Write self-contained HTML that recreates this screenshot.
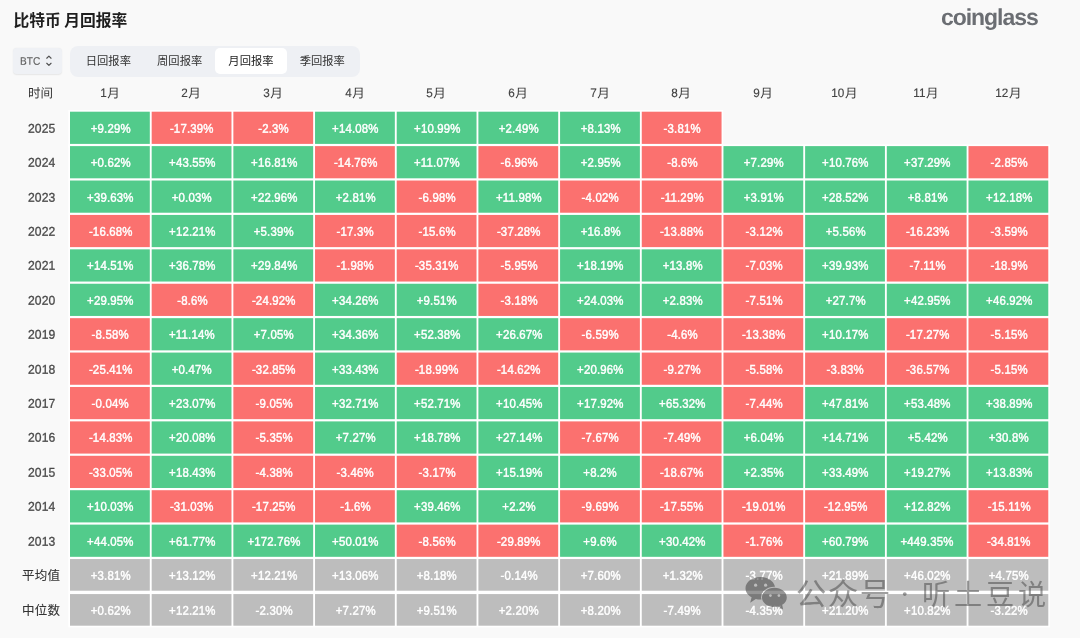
<!DOCTYPE html>
<html lang="zh-CN">
<head>
<meta charset="utf-8">
<title>比特币 月回报率</title>
<style>
html,body{margin:0;padding:0;}
body{width:1080px;height:638px;overflow:hidden;background:#f9f9f9;position:relative;
  font-family:"Liberation Sans","Noto Sans CJK SC",sans-serif;color:#333;}
#bg{position:absolute;left:0;top:0;width:1080px;height:638px;}
.title{position:absolute;left:13.4px;top:8px;height:23px;line-height:23px;font-size:15.75px;font-weight:bold;color:#1e1e1e;white-space:nowrap;
  font-family:"Noto Sans CJK SC","Liberation Sans",sans-serif;}
.logo{position:absolute;left:941px;top:2.4px;height:30px;line-height:30px;font-size:23px;font-weight:bold;color:#6b6e73;white-space:nowrap;
  letter-spacing:-1.05px;transform-origin:0 50%;transform:rotate(.03deg);}
.sel{position:absolute;left:13.4px;top:47.9px;width:48.2px;height:26.1px;border-radius:4px;background:#eff1f5;box-shadow:0 0.5px 1.5px rgba(0,0,0,.08);}
.sel .t{position:absolute;left:6.8px;top:0;height:26.1px;line-height:26.4px;font-size:10.9px;color:#5a5a5a;-webkit-text-stroke:.1px #5a5a5a;transform-origin:0 50%;transform:translateY(-.2px) scaleX(.93) rotate(.03deg);}
.sel svg{position:absolute;left:31.6px;top:6.6px;}
.tabs{position:absolute;left:69.8px;top:45.8px;width:290.3px;height:30.8px;border-radius:8px;background:#eef0f4;}
.tab{position:absolute;top:2.5px;height:25.4px;line-height:25.4px;width:71.3px;text-align:center;font-size:11.3px;color:#333;border-radius:5px;
  font-family:"Noto Sans CJK SC","Liberation Sans",sans-serif;}
.tab.on{background:#fff;color:#222;}
.h{position:absolute;top:82px;height:22px;line-height:22px;text-align:center;font-size:12.5px;color:#333;white-space:nowrap;
  font-family:"Liberation Sans","Noto Sans CJK SC",sans-serif;}
.y{position:absolute;left:13px;width:56px;text-align:center;font-size:12.8px;color:#3d3d3d;white-space:nowrap;-webkit-text-stroke:.3px #4a4a4a;color:#4a4a4a;}
.y.z{font-size:12.5px;letter-spacing:.3px;text-indent:.3px;-webkit-text-stroke:.1px #3a3a3a;color:#3a3a3a;font-family:"Noto Sans CJK SC","Liberation Sans",sans-serif;color:#333;}
.hl{display:inline-block;transform:translate(0,.5px) rotate(.03deg);}
.h .n{font-size:12.2px;transform:translate(0px,-.55px) scaleX(.96) rotate(.03deg);margin:0 .3px 0 -.9px;-webkit-text-stroke:.15px #444;color:#444}
.y.z2{margin-top:0}
.n{display:inline-block;transform:translate(.4px,.8px) scaleX(.95) rotate(.03deg);}
.c{position:absolute;text-align:center;font-size:12.6px;letter-spacing:.2px;color:#fff;white-space:nowrap;-webkit-text-stroke:.45px #fff;}
.f .v{transform:translate(.6px,1.8px) scaleX(.905) rotate(.03deg);}
.v{display:inline-block;transform:translate(.6px,.8px) scaleX(.905) rotate(.03deg);}
.wm{position:absolute;left:0;top:0;width:1080px;height:638px;pointer-events:none;}
.wm .w{position:absolute;top:572px;height:40px;line-height:40px;font-size:30.6px;letter-spacing:1.4px;color:rgba(70,70,70,.52);white-space:nowrap;
  font-family:"Noto Sans CJK SC","Liberation Sans",sans-serif;font-weight:400;}
</style>
</head>
<body>
<svg id="bg" width="1080" height="638" viewBox="0 0 1080 638">
<rect x="68.30" y="110.00" width="654.96" height="37.60" fill="#ffffff"/>
<rect x="68.30" y="144.41" width="981.68" height="482.99" fill="#ffffff"/>
<rect x="70.00" y="111.70" width="79.80" height="32.20" fill="#52cb8b"/>
<rect x="151.68" y="111.70" width="79.80" height="32.20" fill="#fb716f"/>
<rect x="233.36" y="111.70" width="79.80" height="32.20" fill="#fb716f"/>
<rect x="315.04" y="111.70" width="79.80" height="32.20" fill="#52cb8b"/>
<rect x="396.72" y="111.70" width="79.80" height="32.20" fill="#52cb8b"/>
<rect x="478.40" y="111.70" width="79.80" height="32.20" fill="#52cb8b"/>
<rect x="560.08" y="111.70" width="79.80" height="32.20" fill="#52cb8b"/>
<rect x="641.76" y="111.70" width="79.80" height="32.20" fill="#fb716f"/>
<rect x="70.00" y="146.11" width="79.80" height="32.20" fill="#52cb8b"/>
<rect x="151.68" y="146.11" width="79.80" height="32.20" fill="#52cb8b"/>
<rect x="233.36" y="146.11" width="79.80" height="32.20" fill="#52cb8b"/>
<rect x="315.04" y="146.11" width="79.80" height="32.20" fill="#fb716f"/>
<rect x="396.72" y="146.11" width="79.80" height="32.20" fill="#52cb8b"/>
<rect x="478.40" y="146.11" width="79.80" height="32.20" fill="#fb716f"/>
<rect x="560.08" y="146.11" width="79.80" height="32.20" fill="#52cb8b"/>
<rect x="641.76" y="146.11" width="79.80" height="32.20" fill="#fb716f"/>
<rect x="723.44" y="146.11" width="79.80" height="32.20" fill="#52cb8b"/>
<rect x="805.12" y="146.11" width="79.80" height="32.20" fill="#52cb8b"/>
<rect x="886.80" y="146.11" width="79.80" height="32.20" fill="#52cb8b"/>
<rect x="968.48" y="146.11" width="79.80" height="32.20" fill="#fb716f"/>
<rect x="70.00" y="180.52" width="79.80" height="32.20" fill="#52cb8b"/>
<rect x="151.68" y="180.52" width="79.80" height="32.20" fill="#52cb8b"/>
<rect x="233.36" y="180.52" width="79.80" height="32.20" fill="#52cb8b"/>
<rect x="315.04" y="180.52" width="79.80" height="32.20" fill="#52cb8b"/>
<rect x="396.72" y="180.52" width="79.80" height="32.20" fill="#fb716f"/>
<rect x="478.40" y="180.52" width="79.80" height="32.20" fill="#52cb8b"/>
<rect x="560.08" y="180.52" width="79.80" height="32.20" fill="#fb716f"/>
<rect x="641.76" y="180.52" width="79.80" height="32.20" fill="#fb716f"/>
<rect x="723.44" y="180.52" width="79.80" height="32.20" fill="#52cb8b"/>
<rect x="805.12" y="180.52" width="79.80" height="32.20" fill="#52cb8b"/>
<rect x="886.80" y="180.52" width="79.80" height="32.20" fill="#52cb8b"/>
<rect x="968.48" y="180.52" width="79.80" height="32.20" fill="#52cb8b"/>
<rect x="70.00" y="214.93" width="79.80" height="32.20" fill="#fb716f"/>
<rect x="151.68" y="214.93" width="79.80" height="32.20" fill="#52cb8b"/>
<rect x="233.36" y="214.93" width="79.80" height="32.20" fill="#52cb8b"/>
<rect x="315.04" y="214.93" width="79.80" height="32.20" fill="#fb716f"/>
<rect x="396.72" y="214.93" width="79.80" height="32.20" fill="#fb716f"/>
<rect x="478.40" y="214.93" width="79.80" height="32.20" fill="#fb716f"/>
<rect x="560.08" y="214.93" width="79.80" height="32.20" fill="#52cb8b"/>
<rect x="641.76" y="214.93" width="79.80" height="32.20" fill="#fb716f"/>
<rect x="723.44" y="214.93" width="79.80" height="32.20" fill="#fb716f"/>
<rect x="805.12" y="214.93" width="79.80" height="32.20" fill="#52cb8b"/>
<rect x="886.80" y="214.93" width="79.80" height="32.20" fill="#fb716f"/>
<rect x="968.48" y="214.93" width="79.80" height="32.20" fill="#fb716f"/>
<rect x="70.00" y="249.34" width="79.80" height="32.20" fill="#52cb8b"/>
<rect x="151.68" y="249.34" width="79.80" height="32.20" fill="#52cb8b"/>
<rect x="233.36" y="249.34" width="79.80" height="32.20" fill="#52cb8b"/>
<rect x="315.04" y="249.34" width="79.80" height="32.20" fill="#fb716f"/>
<rect x="396.72" y="249.34" width="79.80" height="32.20" fill="#fb716f"/>
<rect x="478.40" y="249.34" width="79.80" height="32.20" fill="#fb716f"/>
<rect x="560.08" y="249.34" width="79.80" height="32.20" fill="#52cb8b"/>
<rect x="641.76" y="249.34" width="79.80" height="32.20" fill="#52cb8b"/>
<rect x="723.44" y="249.34" width="79.80" height="32.20" fill="#fb716f"/>
<rect x="805.12" y="249.34" width="79.80" height="32.20" fill="#52cb8b"/>
<rect x="886.80" y="249.34" width="79.80" height="32.20" fill="#fb716f"/>
<rect x="968.48" y="249.34" width="79.80" height="32.20" fill="#fb716f"/>
<rect x="70.00" y="283.75" width="79.80" height="32.20" fill="#52cb8b"/>
<rect x="151.68" y="283.75" width="79.80" height="32.20" fill="#fb716f"/>
<rect x="233.36" y="283.75" width="79.80" height="32.20" fill="#fb716f"/>
<rect x="315.04" y="283.75" width="79.80" height="32.20" fill="#52cb8b"/>
<rect x="396.72" y="283.75" width="79.80" height="32.20" fill="#52cb8b"/>
<rect x="478.40" y="283.75" width="79.80" height="32.20" fill="#fb716f"/>
<rect x="560.08" y="283.75" width="79.80" height="32.20" fill="#52cb8b"/>
<rect x="641.76" y="283.75" width="79.80" height="32.20" fill="#52cb8b"/>
<rect x="723.44" y="283.75" width="79.80" height="32.20" fill="#fb716f"/>
<rect x="805.12" y="283.75" width="79.80" height="32.20" fill="#52cb8b"/>
<rect x="886.80" y="283.75" width="79.80" height="32.20" fill="#52cb8b"/>
<rect x="968.48" y="283.75" width="79.80" height="32.20" fill="#52cb8b"/>
<rect x="70.00" y="318.16" width="79.80" height="32.20" fill="#fb716f"/>
<rect x="151.68" y="318.16" width="79.80" height="32.20" fill="#52cb8b"/>
<rect x="233.36" y="318.16" width="79.80" height="32.20" fill="#52cb8b"/>
<rect x="315.04" y="318.16" width="79.80" height="32.20" fill="#52cb8b"/>
<rect x="396.72" y="318.16" width="79.80" height="32.20" fill="#52cb8b"/>
<rect x="478.40" y="318.16" width="79.80" height="32.20" fill="#52cb8b"/>
<rect x="560.08" y="318.16" width="79.80" height="32.20" fill="#fb716f"/>
<rect x="641.76" y="318.16" width="79.80" height="32.20" fill="#fb716f"/>
<rect x="723.44" y="318.16" width="79.80" height="32.20" fill="#fb716f"/>
<rect x="805.12" y="318.16" width="79.80" height="32.20" fill="#52cb8b"/>
<rect x="886.80" y="318.16" width="79.80" height="32.20" fill="#fb716f"/>
<rect x="968.48" y="318.16" width="79.80" height="32.20" fill="#fb716f"/>
<rect x="70.00" y="352.57" width="79.80" height="32.20" fill="#fb716f"/>
<rect x="151.68" y="352.57" width="79.80" height="32.20" fill="#52cb8b"/>
<rect x="233.36" y="352.57" width="79.80" height="32.20" fill="#fb716f"/>
<rect x="315.04" y="352.57" width="79.80" height="32.20" fill="#52cb8b"/>
<rect x="396.72" y="352.57" width="79.80" height="32.20" fill="#fb716f"/>
<rect x="478.40" y="352.57" width="79.80" height="32.20" fill="#fb716f"/>
<rect x="560.08" y="352.57" width="79.80" height="32.20" fill="#52cb8b"/>
<rect x="641.76" y="352.57" width="79.80" height="32.20" fill="#fb716f"/>
<rect x="723.44" y="352.57" width="79.80" height="32.20" fill="#fb716f"/>
<rect x="805.12" y="352.57" width="79.80" height="32.20" fill="#fb716f"/>
<rect x="886.80" y="352.57" width="79.80" height="32.20" fill="#fb716f"/>
<rect x="968.48" y="352.57" width="79.80" height="32.20" fill="#fb716f"/>
<rect x="70.00" y="386.98" width="79.80" height="32.20" fill="#fb716f"/>
<rect x="151.68" y="386.98" width="79.80" height="32.20" fill="#52cb8b"/>
<rect x="233.36" y="386.98" width="79.80" height="32.20" fill="#fb716f"/>
<rect x="315.04" y="386.98" width="79.80" height="32.20" fill="#52cb8b"/>
<rect x="396.72" y="386.98" width="79.80" height="32.20" fill="#52cb8b"/>
<rect x="478.40" y="386.98" width="79.80" height="32.20" fill="#52cb8b"/>
<rect x="560.08" y="386.98" width="79.80" height="32.20" fill="#52cb8b"/>
<rect x="641.76" y="386.98" width="79.80" height="32.20" fill="#52cb8b"/>
<rect x="723.44" y="386.98" width="79.80" height="32.20" fill="#fb716f"/>
<rect x="805.12" y="386.98" width="79.80" height="32.20" fill="#52cb8b"/>
<rect x="886.80" y="386.98" width="79.80" height="32.20" fill="#52cb8b"/>
<rect x="968.48" y="386.98" width="79.80" height="32.20" fill="#52cb8b"/>
<rect x="70.00" y="421.39" width="79.80" height="32.20" fill="#fb716f"/>
<rect x="151.68" y="421.39" width="79.80" height="32.20" fill="#52cb8b"/>
<rect x="233.36" y="421.39" width="79.80" height="32.20" fill="#fb716f"/>
<rect x="315.04" y="421.39" width="79.80" height="32.20" fill="#52cb8b"/>
<rect x="396.72" y="421.39" width="79.80" height="32.20" fill="#52cb8b"/>
<rect x="478.40" y="421.39" width="79.80" height="32.20" fill="#52cb8b"/>
<rect x="560.08" y="421.39" width="79.80" height="32.20" fill="#fb716f"/>
<rect x="641.76" y="421.39" width="79.80" height="32.20" fill="#fb716f"/>
<rect x="723.44" y="421.39" width="79.80" height="32.20" fill="#52cb8b"/>
<rect x="805.12" y="421.39" width="79.80" height="32.20" fill="#52cb8b"/>
<rect x="886.80" y="421.39" width="79.80" height="32.20" fill="#52cb8b"/>
<rect x="968.48" y="421.39" width="79.80" height="32.20" fill="#52cb8b"/>
<rect x="70.00" y="455.80" width="79.80" height="32.20" fill="#fb716f"/>
<rect x="151.68" y="455.80" width="79.80" height="32.20" fill="#52cb8b"/>
<rect x="233.36" y="455.80" width="79.80" height="32.20" fill="#fb716f"/>
<rect x="315.04" y="455.80" width="79.80" height="32.20" fill="#fb716f"/>
<rect x="396.72" y="455.80" width="79.80" height="32.20" fill="#fb716f"/>
<rect x="478.40" y="455.80" width="79.80" height="32.20" fill="#52cb8b"/>
<rect x="560.08" y="455.80" width="79.80" height="32.20" fill="#52cb8b"/>
<rect x="641.76" y="455.80" width="79.80" height="32.20" fill="#fb716f"/>
<rect x="723.44" y="455.80" width="79.80" height="32.20" fill="#52cb8b"/>
<rect x="805.12" y="455.80" width="79.80" height="32.20" fill="#52cb8b"/>
<rect x="886.80" y="455.80" width="79.80" height="32.20" fill="#52cb8b"/>
<rect x="968.48" y="455.80" width="79.80" height="32.20" fill="#52cb8b"/>
<rect x="70.00" y="490.21" width="79.80" height="32.20" fill="#52cb8b"/>
<rect x="151.68" y="490.21" width="79.80" height="32.20" fill="#fb716f"/>
<rect x="233.36" y="490.21" width="79.80" height="32.20" fill="#fb716f"/>
<rect x="315.04" y="490.21" width="79.80" height="32.20" fill="#fb716f"/>
<rect x="396.72" y="490.21" width="79.80" height="32.20" fill="#52cb8b"/>
<rect x="478.40" y="490.21" width="79.80" height="32.20" fill="#52cb8b"/>
<rect x="560.08" y="490.21" width="79.80" height="32.20" fill="#fb716f"/>
<rect x="641.76" y="490.21" width="79.80" height="32.20" fill="#fb716f"/>
<rect x="723.44" y="490.21" width="79.80" height="32.20" fill="#fb716f"/>
<rect x="805.12" y="490.21" width="79.80" height="32.20" fill="#fb716f"/>
<rect x="886.80" y="490.21" width="79.80" height="32.20" fill="#52cb8b"/>
<rect x="968.48" y="490.21" width="79.80" height="32.20" fill="#fb716f"/>
<rect x="70.00" y="524.62" width="79.80" height="32.20" fill="#52cb8b"/>
<rect x="151.68" y="524.62" width="79.80" height="32.20" fill="#52cb8b"/>
<rect x="233.36" y="524.62" width="79.80" height="32.20" fill="#52cb8b"/>
<rect x="315.04" y="524.62" width="79.80" height="32.20" fill="#52cb8b"/>
<rect x="396.72" y="524.62" width="79.80" height="32.20" fill="#fb716f"/>
<rect x="478.40" y="524.62" width="79.80" height="32.20" fill="#fb716f"/>
<rect x="560.08" y="524.62" width="79.80" height="32.20" fill="#52cb8b"/>
<rect x="641.76" y="524.62" width="79.80" height="32.20" fill="#52cb8b"/>
<rect x="723.44" y="524.62" width="79.80" height="32.20" fill="#fb716f"/>
<rect x="805.12" y="524.62" width="79.80" height="32.20" fill="#52cb8b"/>
<rect x="886.80" y="524.62" width="79.80" height="32.20" fill="#52cb8b"/>
<rect x="968.48" y="524.62" width="79.80" height="32.20" fill="#fb716f"/>
<rect x="70.00" y="559.05" width="79.80" height="31.65" fill="#bdbdbd"/>
<rect x="151.68" y="559.05" width="79.80" height="31.65" fill="#bdbdbd"/>
<rect x="233.36" y="559.05" width="79.80" height="31.65" fill="#bdbdbd"/>
<rect x="315.04" y="559.05" width="79.80" height="31.65" fill="#bdbdbd"/>
<rect x="396.72" y="559.05" width="79.80" height="31.65" fill="#bdbdbd"/>
<rect x="478.40" y="559.05" width="79.80" height="31.65" fill="#bdbdbd"/>
<rect x="560.08" y="559.05" width="79.80" height="31.65" fill="#bdbdbd"/>
<rect x="641.76" y="559.05" width="79.80" height="31.65" fill="#bdbdbd"/>
<rect x="723.44" y="559.05" width="79.80" height="31.65" fill="#bdbdbd"/>
<rect x="805.12" y="559.05" width="79.80" height="31.65" fill="#bdbdbd"/>
<rect x="886.80" y="559.05" width="79.80" height="31.65" fill="#bdbdbd"/>
<rect x="968.48" y="559.05" width="79.80" height="31.65" fill="#bdbdbd"/>
<rect x="70.00" y="594.07" width="79.80" height="31.63" fill="#bdbdbd"/>
<rect x="151.68" y="594.07" width="79.80" height="31.63" fill="#bdbdbd"/>
<rect x="233.36" y="594.07" width="79.80" height="31.63" fill="#bdbdbd"/>
<rect x="315.04" y="594.07" width="79.80" height="31.63" fill="#bdbdbd"/>
<rect x="396.72" y="594.07" width="79.80" height="31.63" fill="#bdbdbd"/>
<rect x="478.40" y="594.07" width="79.80" height="31.63" fill="#bdbdbd"/>
<rect x="560.08" y="594.07" width="79.80" height="31.63" fill="#bdbdbd"/>
<rect x="641.76" y="594.07" width="79.80" height="31.63" fill="#bdbdbd"/>
<rect x="723.44" y="594.07" width="79.80" height="31.63" fill="#bdbdbd"/>
<rect x="805.12" y="594.07" width="79.80" height="31.63" fill="#bdbdbd"/>
<rect x="886.80" y="594.07" width="79.80" height="31.63" fill="#bdbdbd"/>
<rect x="968.48" y="594.07" width="79.80" height="31.63" fill="#bdbdbd"/>
</svg>
<div class="title">比特币 月回报率</div>
<div class="logo">coinglass</div>
<div class="sel"><span class="t">BTC</span>
<svg width="8" height="13" viewBox="0 0 8 13"><path d="M1.75 4.25 L3.9 2.1 L6.05 4.25 M1.75 9.25 L3.9 11.4 L6.05 9.25" fill="none" stroke="#505050" stroke-width="1.15" stroke-linecap="round" stroke-linejoin="round"/></svg>
</div>
<div class="tabs">
<div class="tab" style="left:2.9px">日回报率</div>
<div class="tab" style="left:74.2px">周回报率</div>
<div class="tab on" style="left:145.5px">月回报率</div>
<div class="tab" style="left:216.8px">季回报率</div>
</div>
<div class="thead">
<div class="h" style="left:13px;width:56px"><span class="hl">时间</span></div>
<div class="h" style="left:70.00px;width:79.80px"><span class="hl"><span class="n">1</span>月</span></div>
<div class="h" style="left:151.68px;width:79.80px"><span class="hl"><span class="n">2</span>月</span></div>
<div class="h" style="left:233.36px;width:79.80px"><span class="hl"><span class="n">3</span>月</span></div>
<div class="h" style="left:315.04px;width:79.80px"><span class="hl"><span class="n">4</span>月</span></div>
<div class="h" style="left:396.72px;width:79.80px"><span class="hl"><span class="n">5</span>月</span></div>
<div class="h" style="left:478.40px;width:79.80px"><span class="hl"><span class="n">6</span>月</span></div>
<div class="h" style="left:560.08px;width:79.80px"><span class="hl"><span class="n">7</span>月</span></div>
<div class="h" style="left:641.76px;width:79.80px"><span class="hl"><span class="n">8</span>月</span></div>
<div class="h" style="left:723.44px;width:79.80px"><span class="hl"><span class="n">9</span>月</span></div>
<div class="h" style="left:805.12px;width:79.80px"><span class="hl"><span class="n">10</span>月</span></div>
<div class="h" style="left:886.80px;width:79.80px"><span class="hl"><span class="n">11</span>月</span></div>
<div class="h" style="left:968.48px;width:79.80px"><span class="hl"><span class="n">12</span>月</span></div>
</div>
<div class="tbody">
<div class="y" style="top:111.70px;height:32.20px;line-height:32.20px"><span class="n">2025</span></div>
<div class="c" style="left:70.00px;top:111.70px;width:79.80px;height:32.20px;line-height:32.20px"><span class="v">+9.29%</span></div>
<div class="c" style="left:151.68px;top:111.70px;width:79.80px;height:32.20px;line-height:32.20px"><span class="v">-17.39%</span></div>
<div class="c" style="left:233.36px;top:111.70px;width:79.80px;height:32.20px;line-height:32.20px"><span class="v">-2.3%</span></div>
<div class="c" style="left:315.04px;top:111.70px;width:79.80px;height:32.20px;line-height:32.20px"><span class="v">+14.08%</span></div>
<div class="c" style="left:396.72px;top:111.70px;width:79.80px;height:32.20px;line-height:32.20px"><span class="v">+10.99%</span></div>
<div class="c" style="left:478.40px;top:111.70px;width:79.80px;height:32.20px;line-height:32.20px"><span class="v">+2.49%</span></div>
<div class="c" style="left:560.08px;top:111.70px;width:79.80px;height:32.20px;line-height:32.20px"><span class="v">+8.13%</span></div>
<div class="c" style="left:641.76px;top:111.70px;width:79.80px;height:32.20px;line-height:32.20px"><span class="v">-3.81%</span></div>
<div class="y" style="top:146.11px;height:32.20px;line-height:32.20px"><span class="n">2024</span></div>
<div class="c" style="left:70.00px;top:146.11px;width:79.80px;height:32.20px;line-height:32.20px"><span class="v">+0.62%</span></div>
<div class="c" style="left:151.68px;top:146.11px;width:79.80px;height:32.20px;line-height:32.20px"><span class="v">+43.55%</span></div>
<div class="c" style="left:233.36px;top:146.11px;width:79.80px;height:32.20px;line-height:32.20px"><span class="v">+16.81%</span></div>
<div class="c" style="left:315.04px;top:146.11px;width:79.80px;height:32.20px;line-height:32.20px"><span class="v">-14.76%</span></div>
<div class="c" style="left:396.72px;top:146.11px;width:79.80px;height:32.20px;line-height:32.20px"><span class="v">+11.07%</span></div>
<div class="c" style="left:478.40px;top:146.11px;width:79.80px;height:32.20px;line-height:32.20px"><span class="v">-6.96%</span></div>
<div class="c" style="left:560.08px;top:146.11px;width:79.80px;height:32.20px;line-height:32.20px"><span class="v">+2.95%</span></div>
<div class="c" style="left:641.76px;top:146.11px;width:79.80px;height:32.20px;line-height:32.20px"><span class="v">-8.6%</span></div>
<div class="c" style="left:723.44px;top:146.11px;width:79.80px;height:32.20px;line-height:32.20px"><span class="v">+7.29%</span></div>
<div class="c" style="left:805.12px;top:146.11px;width:79.80px;height:32.20px;line-height:32.20px"><span class="v">+10.76%</span></div>
<div class="c" style="left:886.80px;top:146.11px;width:79.80px;height:32.20px;line-height:32.20px"><span class="v">+37.29%</span></div>
<div class="c" style="left:968.48px;top:146.11px;width:79.80px;height:32.20px;line-height:32.20px"><span class="v">-2.85%</span></div>
<div class="y" style="top:180.52px;height:32.20px;line-height:32.20px"><span class="n">2023</span></div>
<div class="c" style="left:70.00px;top:180.52px;width:79.80px;height:32.20px;line-height:32.20px"><span class="v">+39.63%</span></div>
<div class="c" style="left:151.68px;top:180.52px;width:79.80px;height:32.20px;line-height:32.20px"><span class="v">+0.03%</span></div>
<div class="c" style="left:233.36px;top:180.52px;width:79.80px;height:32.20px;line-height:32.20px"><span class="v">+22.96%</span></div>
<div class="c" style="left:315.04px;top:180.52px;width:79.80px;height:32.20px;line-height:32.20px"><span class="v">+2.81%</span></div>
<div class="c" style="left:396.72px;top:180.52px;width:79.80px;height:32.20px;line-height:32.20px"><span class="v">-6.98%</span></div>
<div class="c" style="left:478.40px;top:180.52px;width:79.80px;height:32.20px;line-height:32.20px"><span class="v">+11.98%</span></div>
<div class="c" style="left:560.08px;top:180.52px;width:79.80px;height:32.20px;line-height:32.20px"><span class="v">-4.02%</span></div>
<div class="c" style="left:641.76px;top:180.52px;width:79.80px;height:32.20px;line-height:32.20px"><span class="v">-11.29%</span></div>
<div class="c" style="left:723.44px;top:180.52px;width:79.80px;height:32.20px;line-height:32.20px"><span class="v">+3.91%</span></div>
<div class="c" style="left:805.12px;top:180.52px;width:79.80px;height:32.20px;line-height:32.20px"><span class="v">+28.52%</span></div>
<div class="c" style="left:886.80px;top:180.52px;width:79.80px;height:32.20px;line-height:32.20px"><span class="v">+8.81%</span></div>
<div class="c" style="left:968.48px;top:180.52px;width:79.80px;height:32.20px;line-height:32.20px"><span class="v">+12.18%</span></div>
<div class="y" style="top:214.93px;height:32.20px;line-height:32.20px"><span class="n">2022</span></div>
<div class="c" style="left:70.00px;top:214.93px;width:79.80px;height:32.20px;line-height:32.20px"><span class="v">-16.68%</span></div>
<div class="c" style="left:151.68px;top:214.93px;width:79.80px;height:32.20px;line-height:32.20px"><span class="v">+12.21%</span></div>
<div class="c" style="left:233.36px;top:214.93px;width:79.80px;height:32.20px;line-height:32.20px"><span class="v">+5.39%</span></div>
<div class="c" style="left:315.04px;top:214.93px;width:79.80px;height:32.20px;line-height:32.20px"><span class="v">-17.3%</span></div>
<div class="c" style="left:396.72px;top:214.93px;width:79.80px;height:32.20px;line-height:32.20px"><span class="v">-15.6%</span></div>
<div class="c" style="left:478.40px;top:214.93px;width:79.80px;height:32.20px;line-height:32.20px"><span class="v">-37.28%</span></div>
<div class="c" style="left:560.08px;top:214.93px;width:79.80px;height:32.20px;line-height:32.20px"><span class="v">+16.8%</span></div>
<div class="c" style="left:641.76px;top:214.93px;width:79.80px;height:32.20px;line-height:32.20px"><span class="v">-13.88%</span></div>
<div class="c" style="left:723.44px;top:214.93px;width:79.80px;height:32.20px;line-height:32.20px"><span class="v">-3.12%</span></div>
<div class="c" style="left:805.12px;top:214.93px;width:79.80px;height:32.20px;line-height:32.20px"><span class="v">+5.56%</span></div>
<div class="c" style="left:886.80px;top:214.93px;width:79.80px;height:32.20px;line-height:32.20px"><span class="v">-16.23%</span></div>
<div class="c" style="left:968.48px;top:214.93px;width:79.80px;height:32.20px;line-height:32.20px"><span class="v">-3.59%</span></div>
<div class="y" style="top:249.34px;height:32.20px;line-height:32.20px"><span class="n">2021</span></div>
<div class="c" style="left:70.00px;top:249.34px;width:79.80px;height:32.20px;line-height:32.20px"><span class="v">+14.51%</span></div>
<div class="c" style="left:151.68px;top:249.34px;width:79.80px;height:32.20px;line-height:32.20px"><span class="v">+36.78%</span></div>
<div class="c" style="left:233.36px;top:249.34px;width:79.80px;height:32.20px;line-height:32.20px"><span class="v">+29.84%</span></div>
<div class="c" style="left:315.04px;top:249.34px;width:79.80px;height:32.20px;line-height:32.20px"><span class="v">-1.98%</span></div>
<div class="c" style="left:396.72px;top:249.34px;width:79.80px;height:32.20px;line-height:32.20px"><span class="v">-35.31%</span></div>
<div class="c" style="left:478.40px;top:249.34px;width:79.80px;height:32.20px;line-height:32.20px"><span class="v">-5.95%</span></div>
<div class="c" style="left:560.08px;top:249.34px;width:79.80px;height:32.20px;line-height:32.20px"><span class="v">+18.19%</span></div>
<div class="c" style="left:641.76px;top:249.34px;width:79.80px;height:32.20px;line-height:32.20px"><span class="v">+13.8%</span></div>
<div class="c" style="left:723.44px;top:249.34px;width:79.80px;height:32.20px;line-height:32.20px"><span class="v">-7.03%</span></div>
<div class="c" style="left:805.12px;top:249.34px;width:79.80px;height:32.20px;line-height:32.20px"><span class="v">+39.93%</span></div>
<div class="c" style="left:886.80px;top:249.34px;width:79.80px;height:32.20px;line-height:32.20px"><span class="v">-7.11%</span></div>
<div class="c" style="left:968.48px;top:249.34px;width:79.80px;height:32.20px;line-height:32.20px"><span class="v">-18.9%</span></div>
<div class="y" style="top:283.75px;height:32.20px;line-height:32.20px"><span class="n">2020</span></div>
<div class="c" style="left:70.00px;top:283.75px;width:79.80px;height:32.20px;line-height:32.20px"><span class="v">+29.95%</span></div>
<div class="c" style="left:151.68px;top:283.75px;width:79.80px;height:32.20px;line-height:32.20px"><span class="v">-8.6%</span></div>
<div class="c" style="left:233.36px;top:283.75px;width:79.80px;height:32.20px;line-height:32.20px"><span class="v">-24.92%</span></div>
<div class="c" style="left:315.04px;top:283.75px;width:79.80px;height:32.20px;line-height:32.20px"><span class="v">+34.26%</span></div>
<div class="c" style="left:396.72px;top:283.75px;width:79.80px;height:32.20px;line-height:32.20px"><span class="v">+9.51%</span></div>
<div class="c" style="left:478.40px;top:283.75px;width:79.80px;height:32.20px;line-height:32.20px"><span class="v">-3.18%</span></div>
<div class="c" style="left:560.08px;top:283.75px;width:79.80px;height:32.20px;line-height:32.20px"><span class="v">+24.03%</span></div>
<div class="c" style="left:641.76px;top:283.75px;width:79.80px;height:32.20px;line-height:32.20px"><span class="v">+2.83%</span></div>
<div class="c" style="left:723.44px;top:283.75px;width:79.80px;height:32.20px;line-height:32.20px"><span class="v">-7.51%</span></div>
<div class="c" style="left:805.12px;top:283.75px;width:79.80px;height:32.20px;line-height:32.20px"><span class="v">+27.7%</span></div>
<div class="c" style="left:886.80px;top:283.75px;width:79.80px;height:32.20px;line-height:32.20px"><span class="v">+42.95%</span></div>
<div class="c" style="left:968.48px;top:283.75px;width:79.80px;height:32.20px;line-height:32.20px"><span class="v">+46.92%</span></div>
<div class="y" style="top:318.16px;height:32.20px;line-height:32.20px"><span class="n">2019</span></div>
<div class="c" style="left:70.00px;top:318.16px;width:79.80px;height:32.20px;line-height:32.20px"><span class="v">-8.58%</span></div>
<div class="c" style="left:151.68px;top:318.16px;width:79.80px;height:32.20px;line-height:32.20px"><span class="v">+11.14%</span></div>
<div class="c" style="left:233.36px;top:318.16px;width:79.80px;height:32.20px;line-height:32.20px"><span class="v">+7.05%</span></div>
<div class="c" style="left:315.04px;top:318.16px;width:79.80px;height:32.20px;line-height:32.20px"><span class="v">+34.36%</span></div>
<div class="c" style="left:396.72px;top:318.16px;width:79.80px;height:32.20px;line-height:32.20px"><span class="v">+52.38%</span></div>
<div class="c" style="left:478.40px;top:318.16px;width:79.80px;height:32.20px;line-height:32.20px"><span class="v">+26.67%</span></div>
<div class="c" style="left:560.08px;top:318.16px;width:79.80px;height:32.20px;line-height:32.20px"><span class="v">-6.59%</span></div>
<div class="c" style="left:641.76px;top:318.16px;width:79.80px;height:32.20px;line-height:32.20px"><span class="v">-4.6%</span></div>
<div class="c" style="left:723.44px;top:318.16px;width:79.80px;height:32.20px;line-height:32.20px"><span class="v">-13.38%</span></div>
<div class="c" style="left:805.12px;top:318.16px;width:79.80px;height:32.20px;line-height:32.20px"><span class="v">+10.17%</span></div>
<div class="c" style="left:886.80px;top:318.16px;width:79.80px;height:32.20px;line-height:32.20px"><span class="v">-17.27%</span></div>
<div class="c" style="left:968.48px;top:318.16px;width:79.80px;height:32.20px;line-height:32.20px"><span class="v">-5.15%</span></div>
<div class="y" style="top:352.57px;height:32.20px;line-height:32.20px"><span class="n">2018</span></div>
<div class="c" style="left:70.00px;top:352.57px;width:79.80px;height:32.20px;line-height:32.20px"><span class="v">-25.41%</span></div>
<div class="c" style="left:151.68px;top:352.57px;width:79.80px;height:32.20px;line-height:32.20px"><span class="v">+0.47%</span></div>
<div class="c" style="left:233.36px;top:352.57px;width:79.80px;height:32.20px;line-height:32.20px"><span class="v">-32.85%</span></div>
<div class="c" style="left:315.04px;top:352.57px;width:79.80px;height:32.20px;line-height:32.20px"><span class="v">+33.43%</span></div>
<div class="c" style="left:396.72px;top:352.57px;width:79.80px;height:32.20px;line-height:32.20px"><span class="v">-18.99%</span></div>
<div class="c" style="left:478.40px;top:352.57px;width:79.80px;height:32.20px;line-height:32.20px"><span class="v">-14.62%</span></div>
<div class="c" style="left:560.08px;top:352.57px;width:79.80px;height:32.20px;line-height:32.20px"><span class="v">+20.96%</span></div>
<div class="c" style="left:641.76px;top:352.57px;width:79.80px;height:32.20px;line-height:32.20px"><span class="v">-9.27%</span></div>
<div class="c" style="left:723.44px;top:352.57px;width:79.80px;height:32.20px;line-height:32.20px"><span class="v">-5.58%</span></div>
<div class="c" style="left:805.12px;top:352.57px;width:79.80px;height:32.20px;line-height:32.20px"><span class="v">-3.83%</span></div>
<div class="c" style="left:886.80px;top:352.57px;width:79.80px;height:32.20px;line-height:32.20px"><span class="v">-36.57%</span></div>
<div class="c" style="left:968.48px;top:352.57px;width:79.80px;height:32.20px;line-height:32.20px"><span class="v">-5.15%</span></div>
<div class="y" style="top:386.98px;height:32.20px;line-height:32.20px"><span class="n">2017</span></div>
<div class="c" style="left:70.00px;top:386.98px;width:79.80px;height:32.20px;line-height:32.20px"><span class="v">-0.04%</span></div>
<div class="c" style="left:151.68px;top:386.98px;width:79.80px;height:32.20px;line-height:32.20px"><span class="v">+23.07%</span></div>
<div class="c" style="left:233.36px;top:386.98px;width:79.80px;height:32.20px;line-height:32.20px"><span class="v">-9.05%</span></div>
<div class="c" style="left:315.04px;top:386.98px;width:79.80px;height:32.20px;line-height:32.20px"><span class="v">+32.71%</span></div>
<div class="c" style="left:396.72px;top:386.98px;width:79.80px;height:32.20px;line-height:32.20px"><span class="v">+52.71%</span></div>
<div class="c" style="left:478.40px;top:386.98px;width:79.80px;height:32.20px;line-height:32.20px"><span class="v">+10.45%</span></div>
<div class="c" style="left:560.08px;top:386.98px;width:79.80px;height:32.20px;line-height:32.20px"><span class="v">+17.92%</span></div>
<div class="c" style="left:641.76px;top:386.98px;width:79.80px;height:32.20px;line-height:32.20px"><span class="v">+65.32%</span></div>
<div class="c" style="left:723.44px;top:386.98px;width:79.80px;height:32.20px;line-height:32.20px"><span class="v">-7.44%</span></div>
<div class="c" style="left:805.12px;top:386.98px;width:79.80px;height:32.20px;line-height:32.20px"><span class="v">+47.81%</span></div>
<div class="c" style="left:886.80px;top:386.98px;width:79.80px;height:32.20px;line-height:32.20px"><span class="v">+53.48%</span></div>
<div class="c" style="left:968.48px;top:386.98px;width:79.80px;height:32.20px;line-height:32.20px"><span class="v">+38.89%</span></div>
<div class="y" style="top:421.39px;height:32.20px;line-height:32.20px"><span class="n">2016</span></div>
<div class="c" style="left:70.00px;top:421.39px;width:79.80px;height:32.20px;line-height:32.20px"><span class="v">-14.83%</span></div>
<div class="c" style="left:151.68px;top:421.39px;width:79.80px;height:32.20px;line-height:32.20px"><span class="v">+20.08%</span></div>
<div class="c" style="left:233.36px;top:421.39px;width:79.80px;height:32.20px;line-height:32.20px"><span class="v">-5.35%</span></div>
<div class="c" style="left:315.04px;top:421.39px;width:79.80px;height:32.20px;line-height:32.20px"><span class="v">+7.27%</span></div>
<div class="c" style="left:396.72px;top:421.39px;width:79.80px;height:32.20px;line-height:32.20px"><span class="v">+18.78%</span></div>
<div class="c" style="left:478.40px;top:421.39px;width:79.80px;height:32.20px;line-height:32.20px"><span class="v">+27.14%</span></div>
<div class="c" style="left:560.08px;top:421.39px;width:79.80px;height:32.20px;line-height:32.20px"><span class="v">-7.67%</span></div>
<div class="c" style="left:641.76px;top:421.39px;width:79.80px;height:32.20px;line-height:32.20px"><span class="v">-7.49%</span></div>
<div class="c" style="left:723.44px;top:421.39px;width:79.80px;height:32.20px;line-height:32.20px"><span class="v">+6.04%</span></div>
<div class="c" style="left:805.12px;top:421.39px;width:79.80px;height:32.20px;line-height:32.20px"><span class="v">+14.71%</span></div>
<div class="c" style="left:886.80px;top:421.39px;width:79.80px;height:32.20px;line-height:32.20px"><span class="v">+5.42%</span></div>
<div class="c" style="left:968.48px;top:421.39px;width:79.80px;height:32.20px;line-height:32.20px"><span class="v">+30.8%</span></div>
<div class="y" style="top:455.80px;height:32.20px;line-height:32.20px"><span class="n">2015</span></div>
<div class="c" style="left:70.00px;top:455.80px;width:79.80px;height:32.20px;line-height:32.20px"><span class="v">-33.05%</span></div>
<div class="c" style="left:151.68px;top:455.80px;width:79.80px;height:32.20px;line-height:32.20px"><span class="v">+18.43%</span></div>
<div class="c" style="left:233.36px;top:455.80px;width:79.80px;height:32.20px;line-height:32.20px"><span class="v">-4.38%</span></div>
<div class="c" style="left:315.04px;top:455.80px;width:79.80px;height:32.20px;line-height:32.20px"><span class="v">-3.46%</span></div>
<div class="c" style="left:396.72px;top:455.80px;width:79.80px;height:32.20px;line-height:32.20px"><span class="v">-3.17%</span></div>
<div class="c" style="left:478.40px;top:455.80px;width:79.80px;height:32.20px;line-height:32.20px"><span class="v">+15.19%</span></div>
<div class="c" style="left:560.08px;top:455.80px;width:79.80px;height:32.20px;line-height:32.20px"><span class="v">+8.2%</span></div>
<div class="c" style="left:641.76px;top:455.80px;width:79.80px;height:32.20px;line-height:32.20px"><span class="v">-18.67%</span></div>
<div class="c" style="left:723.44px;top:455.80px;width:79.80px;height:32.20px;line-height:32.20px"><span class="v">+2.35%</span></div>
<div class="c" style="left:805.12px;top:455.80px;width:79.80px;height:32.20px;line-height:32.20px"><span class="v">+33.49%</span></div>
<div class="c" style="left:886.80px;top:455.80px;width:79.80px;height:32.20px;line-height:32.20px"><span class="v">+19.27%</span></div>
<div class="c" style="left:968.48px;top:455.80px;width:79.80px;height:32.20px;line-height:32.20px"><span class="v">+13.83%</span></div>
<div class="y" style="top:490.21px;height:32.20px;line-height:32.20px"><span class="n">2014</span></div>
<div class="c" style="left:70.00px;top:490.21px;width:79.80px;height:32.20px;line-height:32.20px"><span class="v">+10.03%</span></div>
<div class="c" style="left:151.68px;top:490.21px;width:79.80px;height:32.20px;line-height:32.20px"><span class="v">-31.03%</span></div>
<div class="c" style="left:233.36px;top:490.21px;width:79.80px;height:32.20px;line-height:32.20px"><span class="v">-17.25%</span></div>
<div class="c" style="left:315.04px;top:490.21px;width:79.80px;height:32.20px;line-height:32.20px"><span class="v">-1.6%</span></div>
<div class="c" style="left:396.72px;top:490.21px;width:79.80px;height:32.20px;line-height:32.20px"><span class="v">+39.46%</span></div>
<div class="c" style="left:478.40px;top:490.21px;width:79.80px;height:32.20px;line-height:32.20px"><span class="v">+2.2%</span></div>
<div class="c" style="left:560.08px;top:490.21px;width:79.80px;height:32.20px;line-height:32.20px"><span class="v">-9.69%</span></div>
<div class="c" style="left:641.76px;top:490.21px;width:79.80px;height:32.20px;line-height:32.20px"><span class="v">-17.55%</span></div>
<div class="c" style="left:723.44px;top:490.21px;width:79.80px;height:32.20px;line-height:32.20px"><span class="v">-19.01%</span></div>
<div class="c" style="left:805.12px;top:490.21px;width:79.80px;height:32.20px;line-height:32.20px"><span class="v">-12.95%</span></div>
<div class="c" style="left:886.80px;top:490.21px;width:79.80px;height:32.20px;line-height:32.20px"><span class="v">+12.82%</span></div>
<div class="c" style="left:968.48px;top:490.21px;width:79.80px;height:32.20px;line-height:32.20px"><span class="v">-15.11%</span></div>
<div class="y" style="top:524.62px;height:32.20px;line-height:32.20px"><span class="n">2013</span></div>
<div class="c" style="left:70.00px;top:524.62px;width:79.80px;height:32.20px;line-height:32.20px"><span class="v">+44.05%</span></div>
<div class="c" style="left:151.68px;top:524.62px;width:79.80px;height:32.20px;line-height:32.20px"><span class="v">+61.77%</span></div>
<div class="c" style="left:233.36px;top:524.62px;width:79.80px;height:32.20px;line-height:32.20px"><span class="v">+172.76%</span></div>
<div class="c" style="left:315.04px;top:524.62px;width:79.80px;height:32.20px;line-height:32.20px"><span class="v">+50.01%</span></div>
<div class="c" style="left:396.72px;top:524.62px;width:79.80px;height:32.20px;line-height:32.20px"><span class="v">-8.56%</span></div>
<div class="c" style="left:478.40px;top:524.62px;width:79.80px;height:32.20px;line-height:32.20px"><span class="v">-29.89%</span></div>
<div class="c" style="left:560.08px;top:524.62px;width:79.80px;height:32.20px;line-height:32.20px"><span class="v">+9.6%</span></div>
<div class="c" style="left:641.76px;top:524.62px;width:79.80px;height:32.20px;line-height:32.20px"><span class="v">+30.42%</span></div>
<div class="c" style="left:723.44px;top:524.62px;width:79.80px;height:32.20px;line-height:32.20px"><span class="v">-1.76%</span></div>
<div class="c" style="left:805.12px;top:524.62px;width:79.80px;height:32.20px;line-height:32.20px"><span class="v">+60.79%</span></div>
<div class="c" style="left:886.80px;top:524.62px;width:79.80px;height:32.20px;line-height:32.20px"><span class="v">+449.35%</span></div>
<div class="c" style="left:968.48px;top:524.62px;width:79.80px;height:32.20px;line-height:32.20px"><span class="v">-34.81%</span></div>
<div class="y z" style="top:559.05px;height:31.65px;line-height:31.65px">平均值</div>
<div class="c f" style="left:70.00px;top:559.05px;width:79.80px;height:31.65px;line-height:31.65px"><span class="v">+3.81%</span></div>
<div class="c f" style="left:151.68px;top:559.05px;width:79.80px;height:31.65px;line-height:31.65px"><span class="v">+13.12%</span></div>
<div class="c f" style="left:233.36px;top:559.05px;width:79.80px;height:31.65px;line-height:31.65px"><span class="v">+12.21%</span></div>
<div class="c f" style="left:315.04px;top:559.05px;width:79.80px;height:31.65px;line-height:31.65px"><span class="v">+13.06%</span></div>
<div class="c f" style="left:396.72px;top:559.05px;width:79.80px;height:31.65px;line-height:31.65px"><span class="v">+8.18%</span></div>
<div class="c f" style="left:478.40px;top:559.05px;width:79.80px;height:31.65px;line-height:31.65px"><span class="v">-0.14%</span></div>
<div class="c f" style="left:560.08px;top:559.05px;width:79.80px;height:31.65px;line-height:31.65px"><span class="v">+7.60%</span></div>
<div class="c f" style="left:641.76px;top:559.05px;width:79.80px;height:31.65px;line-height:31.65px"><span class="v">+1.32%</span></div>
<div class="c f" style="left:723.44px;top:559.05px;width:79.80px;height:31.65px;line-height:31.65px"><span class="v">-3.77%</span></div>
<div class="c f" style="left:805.12px;top:559.05px;width:79.80px;height:31.65px;line-height:31.65px"><span class="v">+21.89%</span></div>
<div class="c f" style="left:886.80px;top:559.05px;width:79.80px;height:31.65px;line-height:31.65px"><span class="v">+46.02%</span></div>
<div class="c f" style="left:968.48px;top:559.05px;width:79.80px;height:31.65px;line-height:31.65px"><span class="v">+4.75%</span></div>
<div class="y z z2" style="top:594.07px;height:31.63px;line-height:31.63px">中位数</div>
<div class="c f" style="left:70.00px;top:594.07px;width:79.80px;height:31.63px;line-height:31.63px"><span class="v">+0.62%</span></div>
<div class="c f" style="left:151.68px;top:594.07px;width:79.80px;height:31.63px;line-height:31.63px"><span class="v">+12.21%</span></div>
<div class="c f" style="left:233.36px;top:594.07px;width:79.80px;height:31.63px;line-height:31.63px"><span class="v">-2.30%</span></div>
<div class="c f" style="left:315.04px;top:594.07px;width:79.80px;height:31.63px;line-height:31.63px"><span class="v">+7.27%</span></div>
<div class="c f" style="left:396.72px;top:594.07px;width:79.80px;height:31.63px;line-height:31.63px"><span class="v">+9.51%</span></div>
<div class="c f" style="left:478.40px;top:594.07px;width:79.80px;height:31.63px;line-height:31.63px"><span class="v">+2.20%</span></div>
<div class="c f" style="left:560.08px;top:594.07px;width:79.80px;height:31.63px;line-height:31.63px"><span class="v">+8.20%</span></div>
<div class="c f" style="left:641.76px;top:594.07px;width:79.80px;height:31.63px;line-height:31.63px"><span class="v">-7.49%</span></div>
<div class="c f" style="left:723.44px;top:594.07px;width:79.80px;height:31.63px;line-height:31.63px"><span class="v">-4.35%</span></div>
<div class="c f" style="left:805.12px;top:594.07px;width:79.80px;height:31.63px;line-height:31.63px"><span class="v">+21.20%</span></div>
<div class="c f" style="left:886.80px;top:594.07px;width:79.80px;height:31.63px;line-height:31.63px"><span class="v">+10.82%</span></div>
<div class="c f" style="left:968.48px;top:594.07px;width:79.80px;height:31.63px;line-height:31.63px"><span class="v">-3.22%</span></div>
</div>
<div class="wm">
<svg style="position:absolute;left:744px;top:575px" width="46" height="37" viewBox="0 0 46 37">
<defs>
<mask id="m1" maskUnits="userSpaceOnUse" x="0" y="0" width="46" height="37">
<rect x="0" y="0" width="46" height="37" fill="#fff"/>
<ellipse cx="30.4" cy="22.4" rx="13.4" ry="10.6" fill="#000"/>
<circle cx="11.6" cy="10.2" r="1.6" fill="#000"/>
<circle cx="21.6" cy="10.2" r="1.6" fill="#000"/>
</mask>
<mask id="m2" maskUnits="userSpaceOnUse" x="0" y="0" width="46" height="37">
<rect x="0" y="0" width="46" height="37" fill="#fff"/>
<circle cx="26.45" cy="20.6" r="1.35" fill="#000"/>
<circle cx="34.9" cy="20.6" r="1.35" fill="#000"/>
</mask>
</defs>
<g fill="rgb(70,70,70)" fill-opacity=".56">
<path mask="url(#m1)" d="M16.3 1.9 C24.5 1.9 31.1 7 31.1 13.2 C31.1 19.400 24.500 24.500 16.300 24.500 C14.700 24.500 13.200 24.300 11.800 23.950 L6.200 27.800 L7.600 22.300 C3.900 20.200 1.500 16.900 1.500 13.200 C1.500 7 8.100 1.900 16.300 1.900 Z"/>
<path mask="url(#m2)" d="M30.4 12.8 C37.250 12.8 42.800 17.100 42.800 22.400 C42.800 25.400 41 28.100 38.200 29.850 L39.100 34.400 L34.300 31.500 C33.100 31.830 31.800 32 30.400 32 C23.550 32 18 27.700 18 22.400 C18 17.100 23.550 12.800 30.400 12.800 Z"/>
</g></svg>
<span class="w" style="left:795.8px">公众号</span>
<span class="w" style="left:895.7px;font-size:18px;letter-spacing:0;top:573px">·</span>
<span class="w" style="left:922.1px;font-size:28.2px;letter-spacing:3.8px;top:573px">听土豆说</span>
</div>
</body>
</html>
